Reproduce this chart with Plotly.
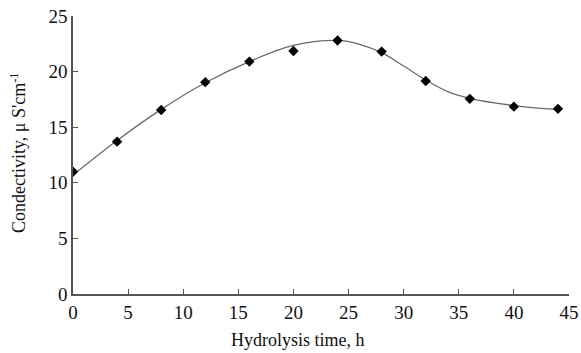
import plotly.graph_objects as go

# Measured data points
time_h = [0, 4, 8, 12, 16, 20, 24, 28, 32, 36, 40, 44]
conductivity = [11.0, 13.7, 16.55, 19.05, 20.9, 21.85, 22.8, 21.8, 19.15, 17.55, 16.85, 16.65]

# Fitted curve
curve_x = [0, 4, 8, 12, 16, 20, 24, 26, 28, 30, 32, 34, 36, 40, 44]
curve_y = [10.7, 13.8, 16.6, 19.0, 20.9, 22.35, 22.8, 22.45, 21.7, 20.5, 19.25, 18.2, 17.6, 16.95, 16.6]

x_ticks = [0, 5, 10, 15, 20, 25, 30, 35, 40, 45]
y_ticks = [0, 5, 10, 15, 20, 25]

x_title = "Hydrolysis time, h"
y_title = "Condectivity, μ S'cm<sup>-1</sup>"

FONT = "Liberation Serif"

fig = go.Figure()
fig.add_trace(go.Scatter(
    x=curve_x, y=curve_y, mode="lines",
    line=dict(color="#6a6a6a", width=1.3, shape="spline", smoothing=1.0),
    hoverinfo="skip", showlegend=False,
))
fig.add_trace(go.Scatter(
    x=time_h, y=conductivity, mode="markers",
    marker=dict(symbol="diamond", size=8, color="black"),
    showlegend=False,
))

fig.update_layout(
    width=581, height=353,
    margin=dict(l=73, r=12, t=16, b=59),
    paper_bgcolor="white", plot_bgcolor="white",
    font=dict(family=FONT, color="#111", size=18),
    xaxis=dict(
        range=[0, 45], tickvals=x_ticks, ticks="inside", ticklen=5,
        tickcolor="#555", showline=True, linecolor="#555", linewidth=1.5,
        showgrid=False, zeroline=False, tickfont=dict(size=19, family=FONT),
        automargin=False,
    ),
    yaxis=dict(
        range=[0, 25], tickvals=y_ticks, ticks="inside", ticklen=5,
        tickcolor="#555", showline=True, linecolor="#555", linewidth=1.5,
        showgrid=False, zeroline=False, tickfont=dict(size=19, family=FONT),
        automargin=False,
    ),
    annotations=[
        dict(text=x_title, xref="paper", yref="paper", x=0.4536, y=0,
             xanchor="center", yanchor="middle", yshift=-46, showarrow=False,
             font=dict(size=18, family=FONT, color="#111")),
        dict(text=y_title, xref="paper", yref="paper", x=0, y=0.507,
             xanchor="center", yanchor="middle", xshift=-55, textangle=-90,
             showarrow=False, font=dict(size=18, family=FONT, color="#111")),
    ],
)

fig.write_html("out.html")
